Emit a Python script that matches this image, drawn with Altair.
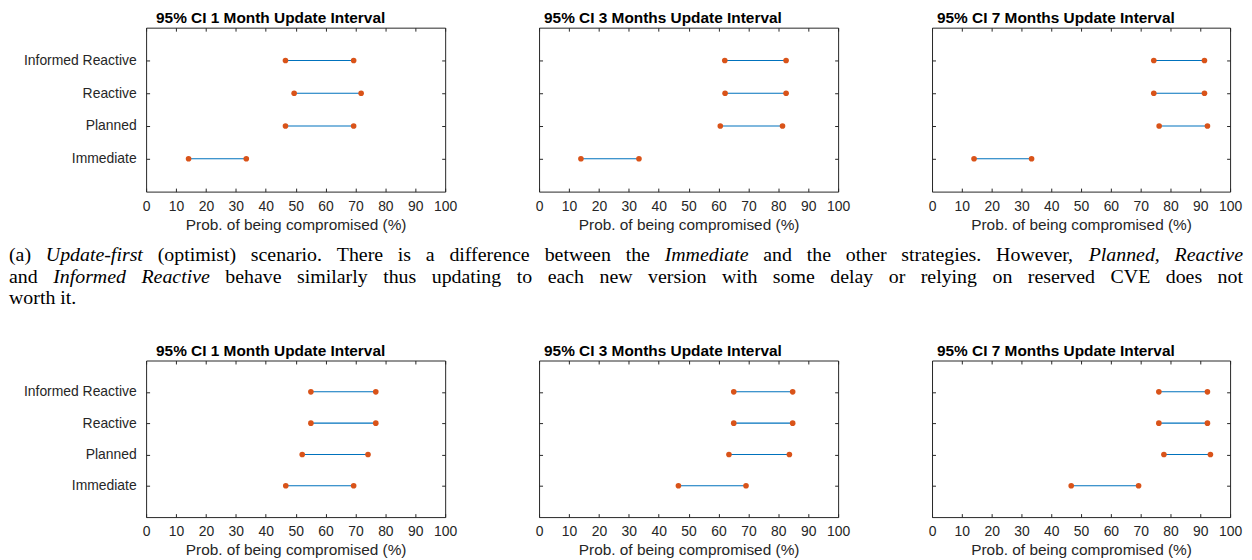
import altair as alt
import pandas as pd

# ---------------- data ----------------
strategies = ["Informed Reactive", "Reactive", "Planned", "Immediate"]
x_ticks = [0, 10, 20, 30, 40, 50, 60, 70, 80, 90, 100]
panel_titles = [
    "95% CI 1 Month Update Interval",
    "95% CI 3 Months Update Interval",
    "95% CI 7 Months Update Interval",
]
x_title = "Prob. of being compromised (%)"

# (a) update-first (optimist) scenario: CI low / high per strategy
opt_1m_lo = [46.6, 49.5, 46.6, 14.2]
opt_1m_hi = [69.4, 71.9, 69.4, 33.5]
opt_3m_lo = [62.1, 62.2, 60.6, 14.0]
opt_3m_hi = [82.6, 82.6, 81.4, 33.4]
opt_7m_lo = [74.4, 74.4, 76.2, 14.1]
opt_7m_hi = [91.4, 91.4, 92.4, 33.4]

# (b) second scenario
pes_1m_lo = [55.1, 55.1, 52.2, 46.7]
pes_1m_hi = [76.8, 76.8, 74.2, 69.4]
pes_3m_lo = [65.1, 65.1, 63.5, 46.6]
pes_3m_hi = [84.8, 84.8, 83.7, 69.2]
pes_7m_lo = [76.1, 76.1, 77.8, 46.7]
pes_7m_hi = [92.4, 92.4, 93.4, 69.3]

# caption words per line and which of them are italic (by index)
caption_words = [
    ["(a)", "Update-first", "(optimist)", "scenario.", "There", "is", "a", "difference",
     "between", "the", "Immediate", "and", "the", "other", "strategies.", "However,",
     "Planned,", "Reactive"],
    ["and", "Informed", "Reactive", "behave", "similarly", "thus", "updating", "to", "each",
     "new", "version", "with", "some", "delay", "or", "relying", "on", "reserved", "CVE",
     "does", "not"],
    ["worth", "it."],
]
caption_italic_idx = [
    {1, 10, 16, 17},
    {1, 2},
    set(),
]

# ---------------- layout (pixels) ----------------
PANEL_LEFT = 146
CAP_FS = 20
CAP_START = 8
caption_line_end = [1250, 1250, None]   # justified lines end here (page x)
caption_line_y = [60, 81.5, 103]

# approximate Times advance widths (per 1000 em) used only for word spacing
_ROMAN = dict(zip("abcdefghijklmnopqrstuvwxyz",
                  [444, 500, 444, 500, 444, 333, 500, 500, 278, 278, 500, 278, 778, 500,
                   500, 500, 500, 333, 389, 278, 500, 500, 722, 500, 500, 444]))
_ROMAN.update({"U": 722, "T": 611, "I": 333, "H": 722, "P": 556, "R": 667, "C": 667,
               "V": 722, "E": 611, "(": 333, ")": 333, ".": 250, ",": 250, "-": 333})
_ITALIC = dict(zip("abcdefghijklmnopqrstuvwxyz",
                   [500, 500, 444, 500, 444, 278, 500, 500, 278, 278, 444, 278, 722, 500,
                    500, 500, 500, 389, 389, 278, 500, 444, 667, 444, 444, 389]))
_ITALIC.update({"U": 722, "I": 333, "P": 611, "R": 611, ",": 250, "-": 333})


def word_width(w, italic):
    tbl = _ITALIC if italic else _ROMAN
    return sum(tbl.get(c, 500) for c in w) / 1000 * CAP_FS


def layout_line(words, ital, end):
    widths = [word_width(w, i in ital) for i, w in enumerate(words)]
    n = len(words)
    if end is not None and n > 1:
        gap = (end - CAP_START - sum(widths)) / (n - 1)
    else:
        gap = 0.25 * CAP_FS
    xs = [CAP_START]
    for j in range(1, n):
        xs.append(xs[-1] + widths[j - 1] + gap)
    return xs


FONT = "Liberation Sans"
DARK = "#262626"
LINE_C = "#0072BD"
DOT_C = "#D95319"
NB = "\u00a0"
TH = "\u2009"
Y_LABEL_EXPR = (f"datum.label == 'Informed Reactive' ? datum.label + '{NB}{NB}{TH}' : "
                f"datum.label == 'Immediate' ? datum.label + '{NB}' : "
                f"datum.label == 'Reactive' ? datum.label + '{TH}' : datum.label")


def panel(lo, hi, title, W, H, dx, show_y):
    df = pd.DataFrame({"strategy": strategies, "lo": lo, "hi": hi})
    xs = alt.Scale(domain=[0, 100], nice=False)
    ys = alt.Scale(type="point", domain=strategies, padding=1)
    base = alt.Chart(df)

    x_main = alt.Axis(values=x_ticks, ticks=False, tickSize=0, domain=False, grid=False,
                      labelPadding=8, labelFlush=False, labelOverlap=False,
                      title=x_title, titlePadding=4)
    y_main = alt.Axis(labels=show_y, ticks=False, tickSize=0, domain=False, grid=False,
                      labelPadding=10, labelExpr=Y_LABEL_EXPR, title=None)
    tick_kw = dict(labels=False, ticks=True, tickSize=3.5, tickColor=DARK, tickWidth=1,
                   domain=False, grid=False, title=None)
    x_in_bottom = alt.Axis(orient="top", offset=-H, values=x_ticks, **tick_kw)
    x_in_top = alt.Axis(orient="bottom", offset=-H, values=x_ticks, **tick_kw)
    y_in_left = alt.Axis(orient="right", offset=-W, **tick_kw)
    y_in_right = alt.Axis(orient="left", offset=-W, **tick_kw)

    rule = base.mark_rule(color=LINE_C, strokeWidth=1.1).encode(
        x=alt.X("lo:Q", scale=xs, axis=x_main),
        x2="hi:Q",
        y=alt.Y("strategy:N", scale=ys, axis=y_main),
    )
    lo_pts = base.mark_circle(color=DOT_C, size=32, opacity=1).encode(
        x=alt.X("lo:Q", scale=xs, axis=x_in_bottom),
        y=alt.Y("strategy:N", scale=ys, axis=y_in_left),
    )
    hi_pts = base.mark_circle(color=DOT_C, size=32, opacity=1).encode(
        x=alt.X("hi:Q", scale=xs, axis=x_in_top),
        y=alt.Y("strategy:N", scale=ys, axis=y_in_right),
    )
    head = alt.Chart(pd.DataFrame({"t": [title]})).mark_text(
        align="left", baseline="alphabetic", font=FONT, fontSize=15.5, fontWeight="bold",
        color="black",
    ).encode(x=alt.value(dx), y=alt.value(-4.7), text="t:N")
    return (
        alt.layer(rule, lo_pts, hi_pts, head)
        .resolve_axis(x="independent", y="independent")
        .properties(width=W, height=H)
    )


# caption chart
rows = []
for li, words in enumerate(caption_words):
    xs_line = layout_line(words, caption_italic_idx[li], caption_line_end[li])
    for wi, w in enumerate(words):
        rows.append({
            "word": w,
            "px": xs_line[wi] - PANEL_LEFT,
            "py": caption_line_y[li],
            "it": wi in caption_italic_idx[li],
        })
cap_df = pd.DataFrame(rows)
cap_base = alt.Chart(cap_df)
cap_kw = dict(align="left", baseline="alphabetic", font="Liberation Serif", fontSize=CAP_FS,
              color="black")
cap_normal = cap_base.transform_filter("!datum.it").mark_text(**cap_kw).encode(
    x=alt.X("px:Q", scale=None), y=alt.Y("py:Q", scale=None), text="word:N")
cap_italic = cap_base.transform_filter("datum.it").mark_text(fontStyle="italic", **cap_kw).encode(
    x=alt.X("px:Q", scale=None), y=alt.Y("py:Q", scale=None), text="word:N")
caption = alt.layer(cap_normal, cap_italic).properties(
    width=301, height=150, view={"stroke": "transparent"})


def blank():
    return alt.Chart(pd.DataFrame({"a": [0]})).mark_point(opacity=0).encode(
        x=alt.value(0), y=alt.value(0)
    ).properties(width=1, height=1, view={"stroke": "transparent"})


H1, H2 = 165, 157.6
p1 = panel(opt_1m_lo, opt_1m_hi, panel_titles[0], 301, H1, 10, True)
p2 = panel(opt_3m_lo, opt_3m_hi, panel_titles[1], 301, H1, 5, False)
p3 = panel(opt_7m_lo, opt_7m_hi, panel_titles[2], 300, H1, 5, False)
p4 = panel(pes_1m_lo, pes_1m_hi, panel_titles[0], 301, H2, 10, True)
p5 = panel(pes_3m_lo, pes_3m_hi, panel_titles[1], 301, H2, 5, False)
p6 = panel(pes_7m_lo, pes_7m_hi, panel_titles[2], 300, H2, 5, False)

chart = (
    alt.concat(p1, p2, p3, caption, blank(), blank(), p4, p5, p6, columns=3,
               spacing={"row": 10, "column": 94.5}, bounds="flush", align="each")
    .properties(padding={"left": 0, "top": 0, "right": 0, "bottom": 0})
    .configure_view(stroke=DARK, strokeWidth=1)
    .configure_axis(labelFont=FONT, titleFont=FONT, labelColor=DARK, titleColor=DARK,
                    labelFontSize=14, titleFontSize=15.5, titleFontWeight="normal")
)

chart.save("out.html", embed_options={"renderer": "svg", "actions": False})
